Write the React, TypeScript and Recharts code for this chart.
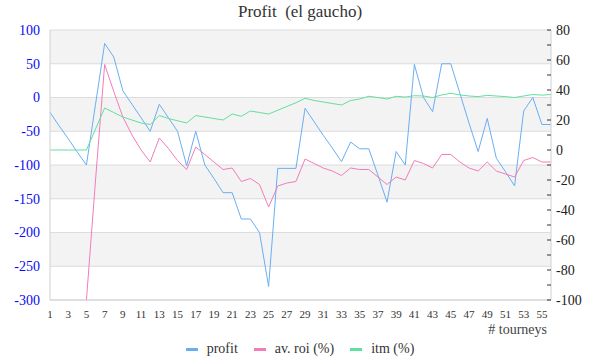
import { LineChart, Line, XAxis, YAxis, CartesianGrid, Legend } from 'recharts';

const tourneys = [
  1, 2, 3, 4, 5, 6, 7, 8, 9, 10, 11, 12, 13, 14, 15, 16, 17, 18, 19, 20, 21, 22, 23, 24, 25, 26, 27, 28,
  29, 30, 31, 32, 33, 34, 35, 36, 37, 38, 39, 40, 41, 42, 43, 44, 45, 46, 47, 48, 49, 50, 51, 52, 53, 54,
  55, 56,
];

const profit = [
  -22, -42, -61, -81, -100, -10, 80, 60, 10, -10, -30, -50, -10, -30, -50, -101, -50, -100, -120, -141,
  -141, -180, -180, -200, -280, -105, -105, -105, -16, -36, -56, -75, -95, -66, -76, -76, -115, -155, -80,
  -100, 49, 0, -21, 50, 50, 6, -38, -80, -31, -90, -110, -131, -20, 0, -40, -40,
];

const avRoi = [
  null, null, null, null, -100, -20, 57, 39, 22, 10, 0, -8, 8, 1, -7, -13, 2, -3, -8, -13, -12, -21, -19,
  -23, -38, -24, -22, -21, -6, -9, -12, -14, -17, -12, -13, -13, -18, -23, -18, -20, -7, -9, -12, -3, -3,
  -8, -12, -14, -8, -14, -16, -18, -7, -5, -8, -8,
];

const itm = [
  0, 0, 0, 0, 0, 14, 28, 25, 22, 20, 18, 17, 23, 21, 19.5, 18, 23, 22, 21, 20, 24, 22.5, 26, 25, 24, 26.5,
  29, 31.5, 34.5, 33, 32, 31, 30, 33, 34, 35.8, 35, 34, 35.8, 35.3, 36.2, 36, 35, 36.7, 37.8, 36.7, 36,
  35.6, 36.4, 36, 35.6, 35, 36, 37, 36.6, 37,
];

const leftTicks = [-300, -250, -200, -150, -100, -50, 0, 50, 100];
const rightTicks = [-100, -90, -80, -70, -60, -50, -40, -30, -20, -10, 0, 10, 20, 30, 40, 50, 60, 70, 80];

const data = tourneys.map((n, i) => ({ n, profit: profit[i], roi: avRoi[i], itm: itm[i] }));

const FONT = '"Liberation Serif", serif';
const BLUE = '#6aaef2';
const PINK = '#f27db9';
const GREEN = '#62dfa0';

const series = [
  { key: 'profit', name: 'profit', color: BLUE },
  { key: 'roi', name: 'av. roi (%)', color: PINK },
  { key: 'itm', name: 'itm (%)', color: GREEN },
];

function RightTick(props: any) {
  const { x, y, payload } = props;
  return (
    <g>
      <line x1={x - 9} x2={x - 5} y1={y} y2={y} stroke="#333" />
      {payload.value % 20 === 0 && (
        <text x={x} y={y} dy={5} fontSize={14} fill="#222" fontFamily={FONT}>
          {payload.value}
        </text>
      )}
    </g>
  );
}

function LegendBox() {
  return (
    <div style={{ display: 'flex', justifyContent: 'center', alignItems: 'center', fontFamily: FONT, fontSize: 14, color: '#333' }}>
      {series.map((s, i) => (
        <div key={s.key} style={{ display: 'flex', alignItems: 'center', marginLeft: i === 0 ? 0 : 16 }}>
          <span style={{ display: 'inline-block', width: 12, height: 3, background: s.color, marginRight: 9 }} />
          <span>{s.name}</span>
        </div>
      ))}
    </div>
  );
}

export default function App() {
  return (
    <div style={{ position: 'absolute', left: 0, top: 0, width: 600, height: 360, background: '#fff' }}>
      <div
        style={{
          position: 'absolute', top: 2, left: 0, width: 600, textAlign: 'center',
          fontFamily: FONT, fontSize: 17, color: '#333', whiteSpace: 'pre',
        }}
      >
        {'Profit  (el gaucho)'}
      </div>
      <LineChart width={600} height={360} data={data} margin={{ top: 30, right: 0, left: 0, bottom: 40 }}>
        <CartesianGrid
          yAxisId="left"
          vertical={false}
          stroke="#dcdcdc"
          horizontalFill={['#f3f3f3', '#ffffff']}
        />
        <XAxis
          dataKey="n"
          interval={1}
          height={20}
          tickLine={false}
          axisLine={{ stroke: '#d0d0d0' }}
          tickMargin={4}
          tick={{ fontSize: 11, fill: '#333', fontFamily: FONT }}
        />
        <YAxis
          yAxisId="left"
          orientation="left"
          width={50}
          domain={[-300, 100]}
          ticks={leftTicks}
          interval={0}
          tickLine={false}
          tickSize={0}
          tickMargin={10}
          axisLine={{ stroke: '#d0d0d0' }}
          tick={{ fontSize: 14, fill: '#0a0af5', fontFamily: FONT }}
        />
        <YAxis
          yAxisId="right"
          orientation="right"
          width={49}
          domain={[-100, 80]}
          ticks={rightTicks}
          interval={0}
          tickLine={false}
          tickSize={0}
          tickMargin={5}
          axisLine={{ stroke: '#d0d0d0' }}
          tick={<RightTick />}
        />
        <Legend
          layout="horizontal"
          verticalAlign="middle"
          align="center"
          wrapperStyle={{ top: 341, left: 0, width: 600 }}
          content={<LegendBox />}
        />
        <Line yAxisId="left" dataKey="profit" name="profit" stroke={BLUE} strokeWidth={1} dot={false} isAnimationActive={false} />
        <Line yAxisId="right" dataKey="roi" name="av. roi (%)" stroke={PINK} strokeWidth={1} dot={false} isAnimationActive={false} />
        <Line yAxisId="right" dataKey="itm" name="itm (%)" stroke={GREEN} strokeWidth={1} dot={false} isAnimationActive={false} />
      </LineChart>
      <div
        style={{
          position: 'absolute', top: 322, right: 53, fontFamily: FONT, fontSize: 14, color: '#444',
          lineHeight: '16px',
        }}
      >
        # tourneys
      </div>
    </div>
  );
}
